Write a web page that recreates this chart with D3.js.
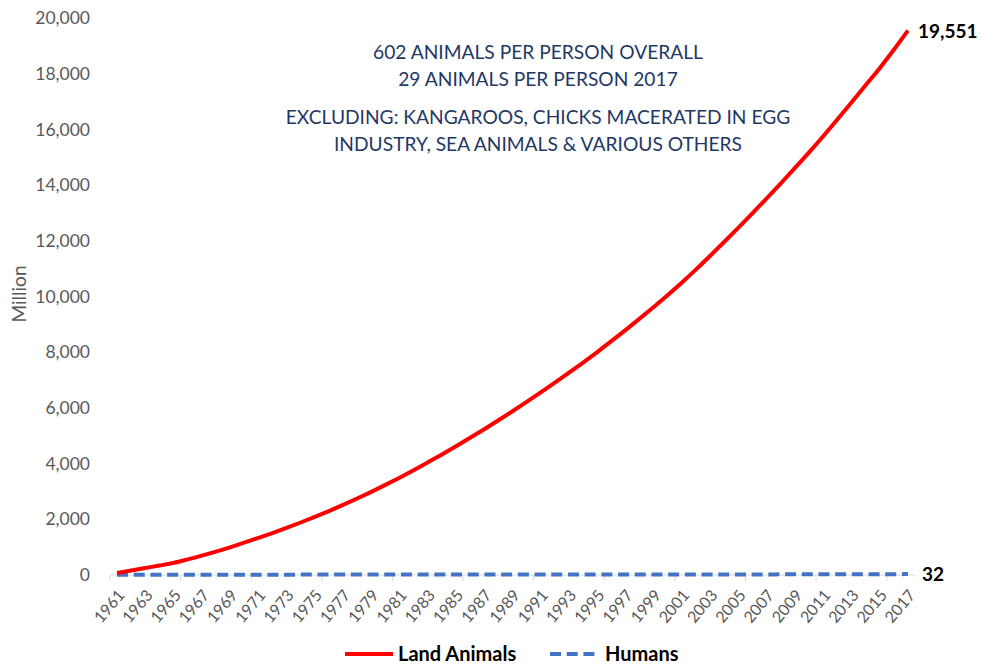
<!DOCTYPE html>
<html>
<head>
<meta charset="utf-8">
<script src="https://cdn.jsdelivr.net/npm/d3@7"></script>
<style>
  body { margin: 0; background: #fff; }
  svg { display: block; font-family: Lato, "Open Sans", sans-serif; }
</style>
</head>
<body>
<svg id="chart" width="983" height="668"></svg>
<script>
// years on the category axis
var years = d3.range(1961, 2018);

// cumulative land animals killed (million)
var landAnimals = [
    75, 160, 250, 340, 435, 560, 695, 840, 995, 1160,
    1330, 1505, 1690, 1885, 2085, 2295, 2515, 2745, 2985, 3235,
    3495, 3765, 4045, 4330, 4625, 4925, 5235, 5555, 5880, 6215,
    6555, 6905, 7265, 7630, 8005, 8395, 8795, 9205, 9625, 10055,
    10505, 10975, 11465, 11965, 12475, 12995, 13525, 14065, 14615, 15175,
    15755, 16355, 16965, 17585, 18200, 18860, 19551
];

// humans (million), flat near zero at this scale
var humans = [
    10.5, 10.7, 11.0, 11.2, 11.4, 11.6, 11.8, 12.0, 12.2, 12.5,
    12.8, 13.0, 13.3, 13.5, 13.7, 13.9, 14.1, 14.4, 14.6, 14.8,
    15.0, 15.3, 15.6, 15.9, 16.1, 16.3, 16.5, 16.8, 17.0, 17.3,
    17.6, 17.8, 18.0, 18.2, 18.4, 18.6, 18.8, 19.0, 19.2, 19.4,
    19.7, 20.0, 20.3, 20.6, 21.0, 21.4, 21.9, 22.6, 23.4, 24.3,
    25.1, 26.0, 26.9, 27.8, 28.9, 30.3, 32.0
];

var yTicks = d3.range(0, 20001, 2000);

var notes = [
    '602 ANIMALS PER PERSON OVERALL',
    '29 ANIMALS PER PERSON 2017',
    'EXCLUDING: KANGAROOS, CHICKS MACERATED IN EGG',
    'INDUSTRY, SEA ANIMALS & VARIOUS OTHERS'
];

var series = [
    { name: 'Land Animals', values: landAnimals, color: '#ff0000', dash: null },
    { name: 'Humans', values: humans, color: '#4472c4', dash: '11,5.7' }
];

(function() {
    var svg = d3.select('#chart');

    var x = d3.scaleBand().domain(years).range([110, 915]);
    var y = d3.scaleLinear().domain([0, 20000]).range([575, 18]);

    var cx = function(yr) { return x(yr) + x.bandwidth() / 2; };

    // y axis labels
    var yAxis = svg.append('g')
        .attr('transform', 'translate(110,0)')
        .call(d3.axisLeft(y).tickValues(yTicks).tickFormat(d3.format(',')).tickSize(0).tickPadding(20));
    yAxis.select('.domain').remove();
    yAxis.selectAll('text')
        .style('font-family', 'Lato, sans-serif')
        .style('font-size', '17.5px')
        .style('fill', '#595959');

    svg.append('text')
        .attr('transform', 'translate(26,294) rotate(-90)')
        .attr('text-anchor', 'middle')
        .style('font-size', '19px')
        .style('fill', '#595959')
        .text('Million');

    // x axis line and tick marks every 5 categories
    svg.append('line')
        .attr('x1', 110).attr('x2', 915)
        .attr('y1', y(0)).attr('y2', y(0))
        .style('stroke', '#d9d9d9').style('stroke-width', 1);

    svg.selectAll('.xtick')
        .data(years.filter(function(d, i) { return i % 5 === 0; }))
        .enter().append('line')
        .attr('class', 'xtick')
        .attr('x1', function(d) { return x(d); })
        .attr('x2', function(d) { return x(d); })
        .attr('y1', y(0)).attr('y2', y(0) + 6)
        .style('stroke', '#d9d9d9');

    // x labels, every second year, rotated
    var xAxis = svg.append('g')
        .attr('transform', 'translate(0,' + y(0) + ')')
        .call(d3.axisBottom(x).tickValues(years.filter(function(d, i) { return i % 2 === 0; })).tickSize(0));
    xAxis.select('.domain').remove();
    xAxis.selectAll('text')
        .attr('text-anchor', 'end')
        .attr('dy', '0.35em')
        .attr('y', 0)
        .attr('transform', 'translate(4,17) rotate(-50)')
        .style('font-family', 'Lato, sans-serif')
        .style('font-size', '16px')
        .style('fill', '#595959');

    // lines
    var line = d3.line()
        .x(function(d, i) { return cx(years[i]); })
        .y(function(d) { return y(d); })
        .curve(d3.curveMonotoneX);

    series.slice().reverse().forEach(function(s) {
        svg.append('path')
            .datum(s.values)
            .attr('d', line)
            .style('fill', 'none')
            .style('stroke', s.color)
            .style('stroke-width', 4)
            .style('stroke-dasharray', s.dash);
    });

    // end value labels
    var last = years.length - 1;
    svg.append('text')
        .attr('x', cx(years[last]) + 10).attr('y', y(landAnimals[last]) + 7)
        .style('font-size', '19px').style('font-weight', 'bold').style('fill', '#000')
        .text(d3.format(',')(landAnimals[last]));
    svg.append('text')
        .attr('x', cx(years[last]) + 14).attr('y', y(humans[last]) + 7)
        .style('font-size', '19px').style('font-weight', 'bold').style('fill', '#000')
        .text(d3.format(',')(humans[last]));

    // annotation
    var noteY = [59, 86, 124, 151];
    svg.selectAll('.note')
        .data(notes)
        .enter().append('text')
        .attr('class', 'note')
        .attr('x', 538)
        .attr('y', function(d, i) { return noteY[i]; })
        .attr('text-anchor', 'middle')
        .style('font-size', '19.2px')
        .style('fill', '#1f3864')
        .text(function(d) { return d; });

    // legend
    var legendX = [345, 550];
    series.forEach(function(s, i) {
        var g = svg.append('g').attr('transform', 'translate(' + legendX[i] + ',654)');
        g.append('line')
            .attr('x1', 0).attr('x2', s.dash ? 46 : 48)
            .style('stroke', s.color)
            .style('stroke-width', 4)
            .style('stroke-dasharray', s.dash);
        g.append('text')
            .attr('x', s.dash ? 55 : 53).attr('y', 7)
            .style('font-size', '20px').style('font-weight', 'bold').style('fill', '#000')
            .text(s.name);
    });
})();
</script>
</body>
</html>
